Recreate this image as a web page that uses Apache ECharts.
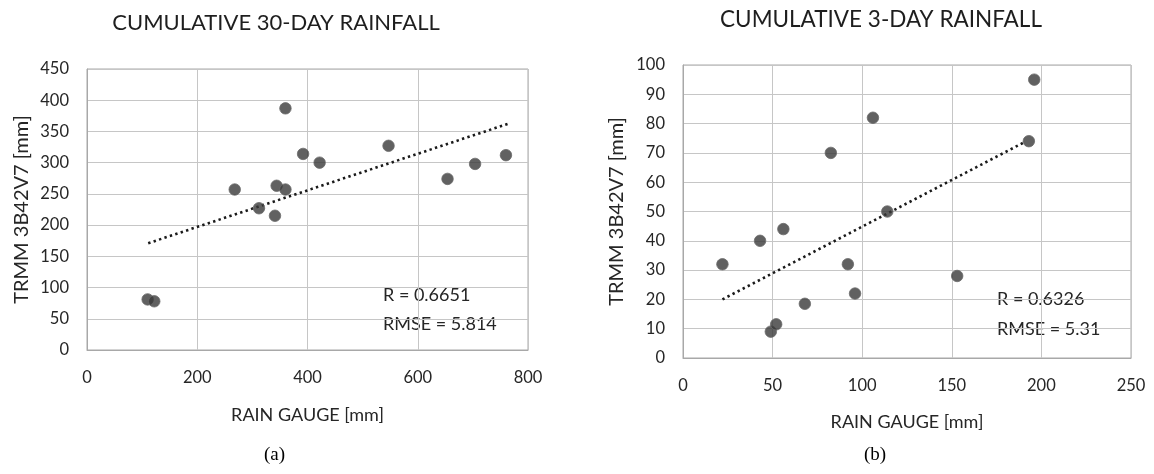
<!DOCTYPE html>
<html>
<head>
<meta charset="utf-8">
<script src="https://cdn.jsdelivr.net/npm/echarts@6/dist/echarts.min.js"></script>
<style>
html,body{margin:0;padding:0;background:#fff;}
#c{width:1154px;height:474px;}
</style>
</head>
<body>
<div id="c"></div>
<script>
// ---- Data ----
const titleA = 'CUMULATIVE 30-DAY RAINFALL';
const titleB = 'CUMULATIVE 3-DAY RAINFALL';
const xNameAll = 'RAIN GAUGE [mm]';
const yNameAll = 'TRMM 3B42V7 [mm]';

const gaugeA = [110, 122, 268, 312, 341, 344, 360, 360, 392, 422, 547, 654, 704, 760];
const trmmA  = [81, 78, 257, 227, 215, 263, 257, 387, 314, 300, 327, 274, 298, 312];
const trendAx = [111, 763];
const trendAy = [171, 362];
const statsA = ['R = 0.6651', 'RMSE = 5.814'];

const gaugeB = [22, 43, 56, 49, 52, 68, 82.5, 92, 96, 106, 114, 153, 193, 196];
const trmmB  = [32, 40, 44, 9, 11.5, 18.5, 70, 32, 22, 82, 50, 28, 74, 95];
const trendBx = [22, 190];
const trendBy = [20, 73.5];
const statsB = ['R = 0.6326', 'RMSE = 5.31'];

const captions = ['(a)', '(b)'];

// ---- Build chart ----
const pairs = (xs, ys) => xs.map((x, i) => [x, ys[i]]);
const FONT = 'Lato';
const TXT = '#262626';
const gridLineColor = '#c6c6c6';
const axisLineColor = '#a8a8a8';

function xAxis(gridIndex, max, interval, nameGap) {
  return {
    type: 'value', gridIndex, min: 0, max, interval,
    name: xNameAll, nameLocation: 'middle', nameGap,
    nameTextStyle: {fontFamily: FONT, fontSize: 18, color: TXT},
    axisLine: {show: true, lineStyle: {color: axisLineColor, width: 1}},
    axisTick: {show: false},
    axisLabel: {fontFamily: FONT, fontSize: 16.5, color: TXT, margin: 19},
    splitLine: {show: true, lineStyle: {color: gridLineColor, width: 1}}
  };
}
function yAxis(gridIndex, max, interval, nameGap) {
  return {
    type: 'value', gridIndex, min: 0, max, interval,
    name: yNameAll, nameLocation: 'middle', nameGap,
    nameTextStyle: {fontFamily: FONT, fontSize: 20, color: TXT},
    axisLine: {show: true, lineStyle: {color: axisLineColor, width: 1}},
    axisTick: {show: false},
    axisLabel: {fontFamily: FONT, fontSize: 16.5, color: TXT, margin: 18},
    splitLine: {show: true, lineStyle: {color: gridLineColor, width: 1}}
  };
}
const scatterStyle = {color: '#3a3a3a', borderColor: '#6a6a6a', borderWidth: 1};
const trendStyle = {color: '#1a1a1a', width: 2.6, type: [2.4, 3.3]};

const chart = echarts.init(document.getElementById('c'), null, {renderer: 'canvas'});
chart.setOption({
  backgroundColor: '#ffffff',
  animation: false,
  title: [
    {text: titleA, left: 271, top: 18, textAlign: 'center', textVerticalAlign: 'middle',
     textStyle: {fontFamily: FONT, fontSize: 22, fontWeight: 'normal', color: '#1e1e1e'}},
    {text: titleB, left: 876, top: 15, textAlign: 'center', textVerticalAlign: 'middle',
     textStyle: {fontFamily: FONT, fontSize: 22.5, fontWeight: 'normal', color: '#1e1e1e'}}
  ],
  grid: [
    {left: 87, top: 69, width: 441, height: 281, show: true, borderColor: axisLineColor, borderWidth: 1},
    {left: 683, top: 65, width: 448, height: 293, show: true, borderColor: axisLineColor, borderWidth: 1}
  ],
  xAxis: [xAxis(0, 800, 200, 56), xAxis(1, 250, 50, 55)],
  yAxis: [yAxis(0, 450, 50, 55), yAxis(1, 100, 10, 56)],
  series: [
    {type: 'line', xAxisIndex: 0, yAxisIndex: 0, data: pairs(trendAx, trendAy),
     symbol: 'none', lineStyle: trendStyle, z: 2, silent: true},
    {type: 'scatter', xAxisIndex: 0, yAxisIndex: 0, data: pairs(gaugeA, trmmA),
     symbolSize: 11.5, itemStyle: scatterStyle, z: 3},
    {type: 'line', xAxisIndex: 1, yAxisIndex: 1, data: pairs(trendBx, trendBy),
     symbol: 'none', lineStyle: trendStyle, z: 2, silent: true},
    {type: 'scatter', xAxisIndex: 1, yAxisIndex: 1, data: pairs(gaugeB, trmmB),
     symbolSize: 11.5, itemStyle: scatterStyle, z: 3}
  ],
  graphic: [
    {type: 'text', left: 383, top: 286, style: {text: statsA[0], font: '18px Lato', fill: TXT}},
    {type: 'text', left: 383, top: 315, style: {text: statsA[1], font: '18px Lato', fill: TXT}},
    {type: 'text', left: 997, top: 290, style: {text: statsB[0], font: '18px Lato', fill: TXT}},
    {type: 'text', left: 997, top: 320, style: {text: statsB[1], font: '18px Lato', fill: TXT}},
    {type: 'text', left: 264, top: 446, style: {text: captions[0], font: '19px "Liberation Serif"', fill: '#000'}},
    {type: 'text', left: 864, top: 446, style: {text: captions[1], font: '19px "Liberation Serif"', fill: '#000'}}
  ]
});
</script>
</body>
</html>
